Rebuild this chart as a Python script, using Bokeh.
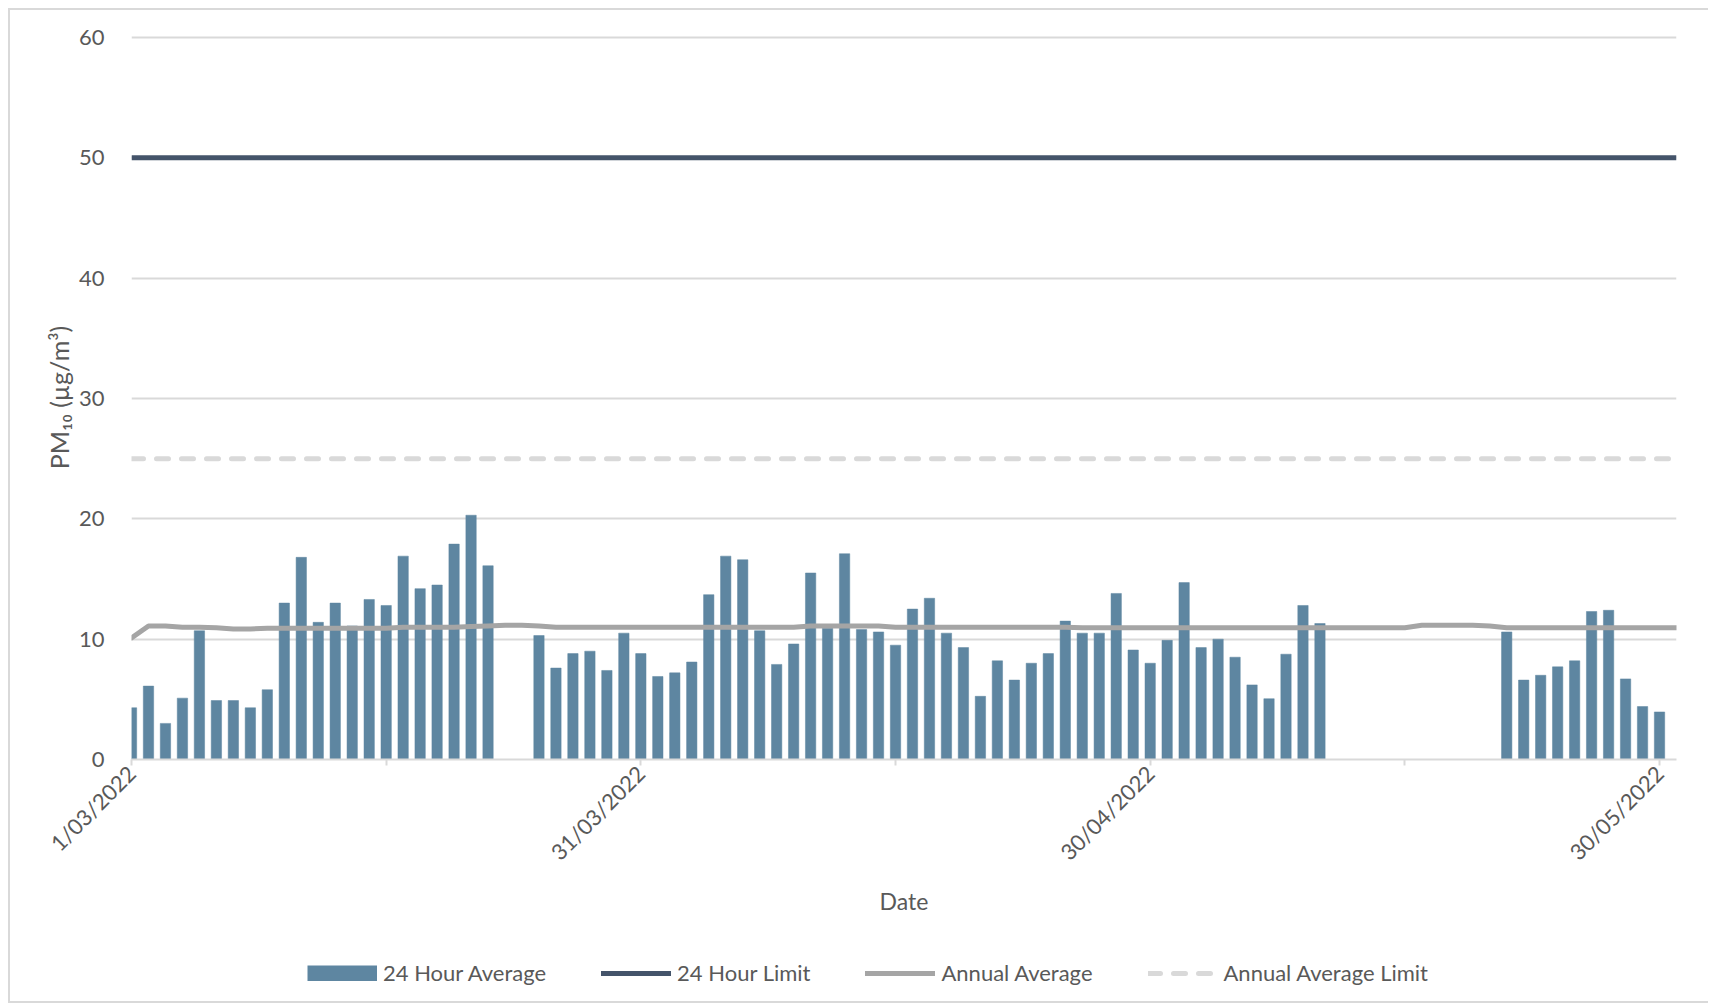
import math
import pandas as pd
from bokeh.plotting import figure
from bokeh.layouts import column
from bokeh.models import ColumnDataSource, FixedTicker, Legend, LegendItem, Range1d
from bokeh.embed import file_html
from bokeh.resources import INLINE

# ---------------- data ----------------
start_date = "2022-03-01"
end_date = "2022-05-31"

# 24 hour average PM10 (1 Mar .. 30 May 2022), None = no data
pm10_24h = [
    4.3, 6.1, 3.0, 5.1, 10.7, 4.9, 4.9, 4.3, 5.8, 13.0,
    16.8, 11.4, 13.0, 11.1, 13.3, 12.8, 16.9, 14.2, 14.5, 17.9,
    20.3, 16.1, None, None, 10.3, 7.6, 8.8, 9.0, 7.4, 10.5,
    8.8, 6.9, 7.2, 8.1, 13.7, 16.9, 16.6, 10.7, 7.9, 9.6,
    15.5, 10.9, 17.1, 10.8, 10.6, 9.5, 12.5, 13.4, 10.5, 9.3,
    5.25, 8.2, 6.6, 8.0, 8.8, 11.5, 10.5, 10.5, 13.8, 9.1,
    8.0, 9.9, 14.7, 9.3, 10.0, 8.5, 6.2, 5.05, 8.75, 12.8,
    11.3, None, None, None, None, None, None, None, None, None,
    None, 10.6, 6.6, 7.0, 7.7, 8.2, 12.3, 12.4, 6.7, 4.4,
    3.95,
]

# running annual average (1 Mar .. 31 May 2022)
annual_avg = [
    10.1, 11.1, 11.1, 11.0, 11.0, 10.95, 10.85, 10.85, 10.9, 10.9,
    10.9, 10.9, 10.9, 10.9, 10.9, 10.9, 11.0, 11.0, 11.0, 11.0,
    11.05, 11.1, 11.15, 11.15, 11.1, 11.0, 11.0, 11.0, 11.0, 11.0,
    11.0, 11.0, 11.0, 11.0, 11.0, 11.0, 11.0, 11.0, 11.0, 11.0,
    11.1, 11.1, 11.1, 11.1, 11.1, 11.0, 11.0, 11.0, 11.0, 11.0,
    11.0, 11.0, 11.0, 11.0, 11.0, 11.0, 10.95, 10.95, 10.95, 10.95,
    10.95, 10.95, 10.95, 10.95, 10.95, 10.95, 10.95, 10.95, 10.95, 10.95,
    10.95, 10.95, 10.95, 10.95, 10.95, 10.95, 11.15, 11.15, 11.15, 11.15,
    11.1, 10.95, 10.95, 10.95, 10.95, 10.95, 10.95, 10.95, 10.95, 10.95,
    10.95, 10.95,
]

limit_24h = 50
limit_annual = 25

tick_dates = ["2022-03-01", "2022-03-16", "2022-03-31", "2022-04-15",
              "2022-04-30", "2022-05-15", "2022-05-30"]
tick_labels = ["1/03/2022", "", "31/03/2022", "", "30/04/2022", "", "30/05/2022"]

y_ticks = [0, 10, 20, 30, 40, 50, 60]

series_names = ["24 Hour Average", "24 Hour Limit", "Annual Average", "Annual Average Limit"]

# ---------------- styles ----------------
FONT = "Lato"
TXT = "#595959"
GRID = "#D9D9D9"
BAR_C = "#5E86A1"
LIM_C = "#44546A"
AVG_C = "#A5A5A5"
LANN_C = "#D9D9D9"
BORDER = "2px solid #D9D9D9"

# ---------------- sources ----------------
all_days = pd.date_range(start_date, end_date, freq="D")
bar_days = [d for d, v in zip(all_days, pm10_24h) if v is not None]
bar_vals = [v for v in pm10_24h if v is not None]
bar_src = ColumnDataSource(dict(x=bar_days, y=bar_vals))
line_src = ColumnDataSource(dict(
    x=list(all_days),
    avg=annual_avg,
    lim24=[limit_24h] * len(all_days),
    limann=[limit_annual] * len(all_days),
))


def ms(d):
    return pd.Timestamp(d).value / 1e6


p = figure(
    x_axis_type="datetime",
    frame_width=1543, frame_height=722,
    min_border_left=121, min_border_right=34, min_border_top=25, min_border_bottom=188,
    output_backend="svg", toolbar_location=None,
    x_range=Range1d(pd.Timestamp(start_date), pd.Timestamp(end_date)),
    y_range=Range1d(0, 60 + 2 / 12),
)
p.margin = (8, 0, 0, 8)
p.styles = {"border-left": BORDER, "border-top": BORDER}
p.outline_line_color = None
p.background_fill_color = "white"
p.border_fill_color = "white"

day_ms = 86400000
p.vbar(x="x", top="y", width=0.61 * day_ms, source=bar_src,
       fill_color=BAR_C, line_color=BAR_C, line_width=0.5)
p.line("x", "avg", source=line_src, line_color=AVG_C, line_width=5,
       line_join="round", line_cap="round")
p.line("x", "lim24", source=line_src, line_color=LIM_C, line_width=5)
p.line("x", "limann", source=line_src, line_color=LANN_C, line_width=5,
       line_dash="12 13", line_cap="round")

# axes
p.xaxis.ticker = FixedTicker(ticks=[ms(d) for d in tick_dates])
p.xaxis.major_label_overrides = {ms(d): lab for d, lab in zip(tick_dates, tick_labels)}
p.xaxis.major_label_orientation = math.pi / 4
p.xaxis.axis_line_color = GRID
p.xaxis.axis_line_width = 2
p.xaxis.major_tick_line_color = GRID
p.xaxis.major_tick_line_width = 2
p.xaxis.major_tick_out = 6
p.xaxis.major_tick_in = 0
p.xaxis.minor_tick_line_color = None
p.xaxis.major_label_standoff = 4
p.xaxis.axis_label = "Date"
p.xaxis.axis_label_standoff = 9

p.yaxis.ticker = FixedTicker(ticks=y_ticks)
p.yaxis.axis_line_color = None
p.yaxis.major_tick_line_color = None
p.yaxis.minor_tick_line_color = None
p.yaxis.major_label_standoff = 21
p.yaxis.axis_label = "PM\u2081\u2080 (\u00b5g/m\u00b3)"
p.yaxis.axis_label_standoff = 2

for ax in (p.xaxis[0], p.yaxis[0]):
    ax.major_label_text_font = FONT
    ax.major_label_text_font_size = "22px"
    ax.major_label_text_color = TXT
    ax.axis_label_text_font = FONT
    ax.axis_label_text_font_size = "23px"
    ax.axis_label_text_font_style = "normal"
    ax.axis_label_text_color = TXT
p.yaxis.axis_label_text_font_size = "25px"

p.xgrid.grid_line_color = None
p.ygrid.grid_line_color = GRID
p.ygrid.grid_line_width = 2
p.ygrid.ticker = FixedTicker(ticks=y_ticks)

# ---------------- legend strip ----------------
lg = figure(
    frame_width=1543, frame_height=56,
    min_border_left=121, min_border_right=34, min_border_top=0, min_border_bottom=0,
    output_backend="svg", toolbar_location=None,
    x_range=Range1d(0, 1), y_range=Range1d(0, 1),
    x_axis_location=None, y_axis_location=None,
)
lg.margin = (0, 0, 0, 8)
lg.styles = {"border-left": BORDER, "border-bottom": BORDER}
lg.outline_line_color = None
lg.grid.grid_line_color = None
# placeholder renderers with no drawable points: only their legend swatches are seen
hidden = ColumnDataSource(dict(x=[float("nan")], y=[float("nan")]))
l_bar = lg.line("x", "y", source=hidden, line_color=BAR_C, line_width=16, line_cap="butt")
l_lim = lg.line("x", "y", source=hidden, line_color=LIM_C, line_width=5, line_cap="round")
l_avg = lg.line("x", "y", source=hidden, line_color=AVG_C, line_width=5, line_cap="round")
l_lann = lg.line("x", "y", source=hidden, line_color=LANN_C, line_width=5,
                 line_dash="12 13", line_cap="round")

legend = Legend(
    items=[LegendItem(label=series_names[0], renderers=[l_bar]),
           LegendItem(label=series_names[1], renderers=[l_lim]),
           LegendItem(label=series_names[2], renderers=[l_avg]),
           LegendItem(label=series_names[3], renderers=[l_lann])],
    orientation="horizontal", location=(176, 17),
    glyph_width=70, glyph_height=16, label_height=22,
    label_text_font=FONT, label_text_font_size="22px", label_text_color=TXT,
    label_standoff=6, spacing=55, padding=0, margin=0,
    border_line_color=None, background_fill_alpha=0,
)
lg.add_layout(legend, "center")

layout = column(p, lg, spacing=0)
open("out.html", "w").write(file_html(layout, INLINE))
